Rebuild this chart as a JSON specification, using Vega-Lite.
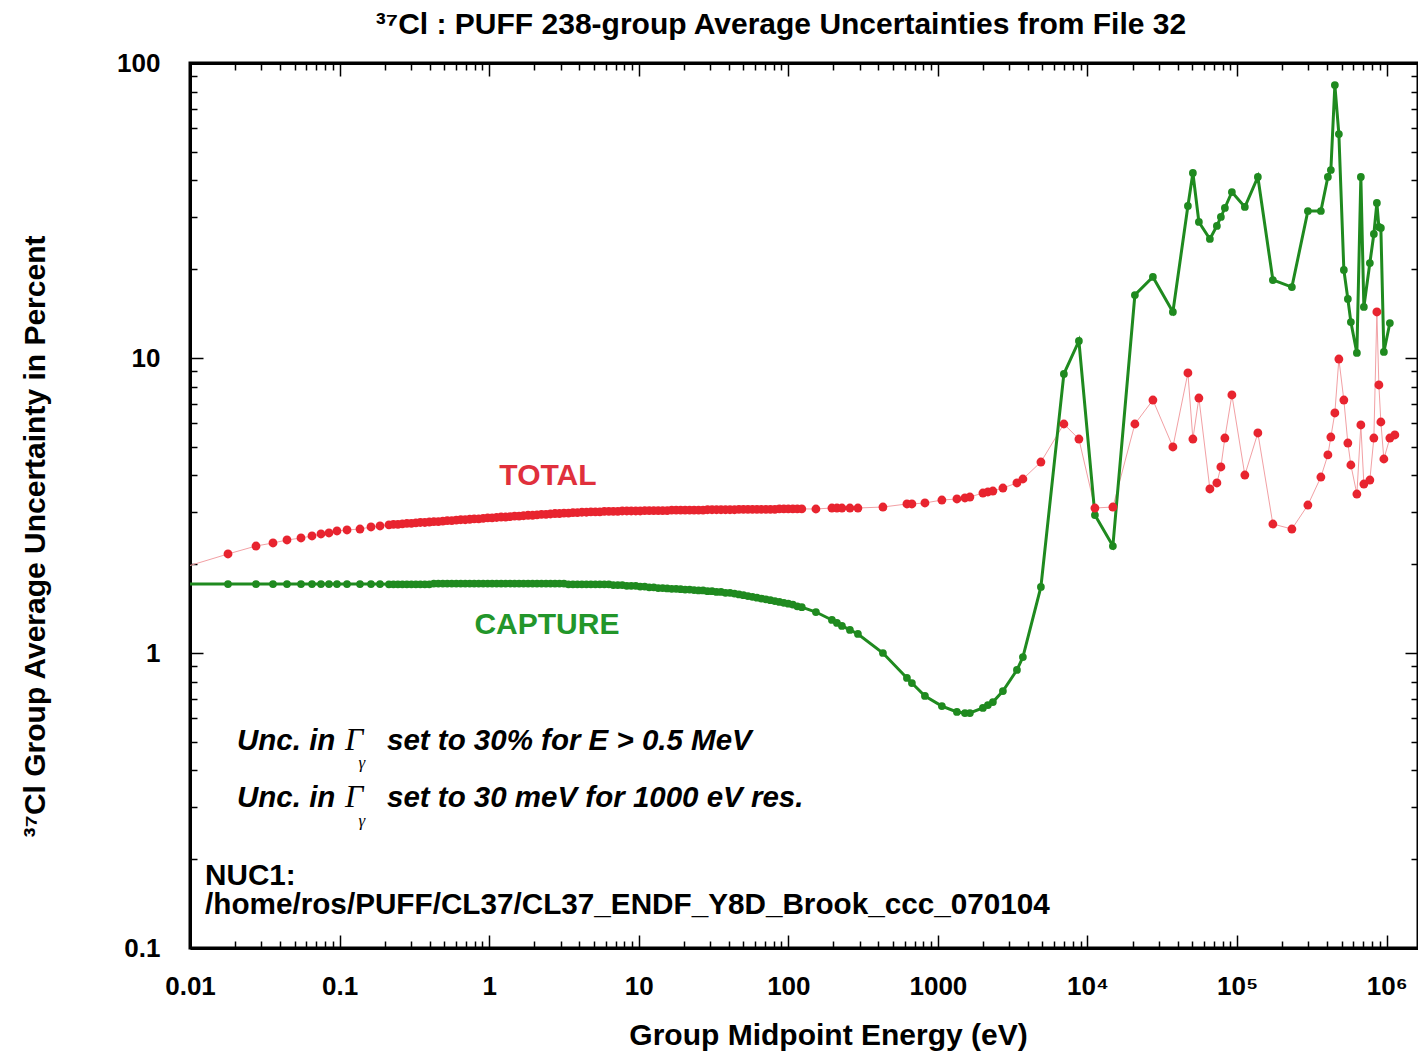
{
  "$schema": "https://vega.github.io/schema/vega-lite/v6.json",
  "width": 1228,
  "height": 885,
  "autosize": {"type": "none"},
  "padding": {"left": 190, "top": 63, "right": 0, "bottom": 105},
  "background": "white",
  "config": {"view": {"stroke": "black", "strokeWidth": 3}, "font": "Liberation Sans"},
  "title": {"text": "³⁷Cl : PUFF 238-group Average Uncertainties from File 32", "font": "Liberation Sans", "fontSize": 30, "fontWeight": "bold", "color": "black", "anchor": "middle", "frame": "group", "dx": -23, "offset": -14, "baseline": "alphabetic"},
  "datasets": {
    "g": [
      {"e": 0.005, "t": 1.78, "c": 1.713},
      {"e": 0.01795, "t": 2.166, "c": 1.713},
      {"e": 0.02762, "t": 2.305, "c": 1.713},
      {"e": 0.03588, "t": 2.36, "c": 1.713},
      {"e": 0.0445, "t": 2.416, "c": 1.713},
      {"e": 0.05521, "t": 2.454, "c": 1.713},
      {"e": 0.06539, "t": 2.493, "c": 1.713},
      {"e": 0.07509, "t": 2.532, "c": 1.713},
      {"e": 0.08492, "t": 2.552, "c": 1.713},
      {"e": 0.09607, "t": 2.592, "c": 1.713},
      {"e": 0.1121, "t": 2.612, "c": 1.713},
      {"e": 0.1369, "t": 2.632, "c": 1.713},
      {"e": 0.1622, "t": 2.674, "c": 1.713},
      {"e": 0.1863, "t": 2.695, "c": 1.713},
      {"e": 0.2138, "t": 2.72, "c": 1.71},
      {"e": 0.2291, "t": 2.73, "c": 1.71},
      {"e": 0.2455, "t": 2.73, "c": 1.71},
      {"e": 0.263, "t": 2.74, "c": 1.71},
      {"e": 0.2818, "t": 2.75, "c": 1.71},
      {"e": 0.302, "t": 2.75, "c": 1.71},
      {"e": 0.3236, "t": 2.76, "c": 1.71},
      {"e": 0.3467, "t": 2.77, "c": 1.71},
      {"e": 0.3715, "t": 2.77, "c": 1.71},
      {"e": 0.3981, "t": 2.78, "c": 1.71},
      {"e": 0.4266, "t": 2.79, "c": 1.72},
      {"e": 0.4571, "t": 2.79, "c": 1.72},
      {"e": 0.4898, "t": 2.8, "c": 1.72},
      {"e": 0.5248, "t": 2.81, "c": 1.72},
      {"e": 0.5623, "t": 2.81, "c": 1.72},
      {"e": 0.6026, "t": 2.82, "c": 1.72},
      {"e": 0.6457, "t": 2.83, "c": 1.72},
      {"e": 0.6918, "t": 2.83, "c": 1.72},
      {"e": 0.7413, "t": 2.84, "c": 1.72},
      {"e": 0.7943, "t": 2.85, "c": 1.72},
      {"e": 0.8511, "t": 2.85, "c": 1.72},
      {"e": 0.912, "t": 2.86, "c": 1.72},
      {"e": 0.9772, "t": 2.87, "c": 1.72},
      {"e": 1.047, "t": 2.87, "c": 1.72},
      {"e": 1.122, "t": 2.88, "c": 1.72},
      {"e": 1.202, "t": 2.89, "c": 1.72},
      {"e": 1.288, "t": 2.89, "c": 1.72},
      {"e": 1.38, "t": 2.9, "c": 1.72},
      {"e": 1.479, "t": 2.91, "c": 1.72},
      {"e": 1.585, "t": 2.91, "c": 1.72},
      {"e": 1.698, "t": 2.92, "c": 1.72},
      {"e": 1.82, "t": 2.93, "c": 1.72},
      {"e": 1.95, "t": 2.93, "c": 1.72},
      {"e": 2.089, "t": 2.94, "c": 1.72},
      {"e": 2.239, "t": 2.95, "c": 1.72},
      {"e": 2.399, "t": 2.95, "c": 1.72},
      {"e": 2.57, "t": 2.96, "c": 1.72},
      {"e": 2.754, "t": 2.97, "c": 1.72},
      {"e": 2.951, "t": 2.97, "c": 1.72},
      {"e": 3.162, "t": 2.98, "c": 1.72},
      {"e": 3.388, "t": 2.98, "c": 1.71},
      {"e": 3.631, "t": 2.99, "c": 1.71},
      {"e": 3.89, "t": 2.99, "c": 1.71},
      {"e": 4.169, "t": 3.0, "c": 1.71},
      {"e": 4.467, "t": 3.0, "c": 1.71},
      {"e": 4.786, "t": 3.01, "c": 1.71},
      {"e": 5.129, "t": 3.01, "c": 1.71},
      {"e": 5.495, "t": 3.01, "c": 1.71},
      {"e": 5.888, "t": 3.02, "c": 1.71},
      {"e": 6.31, "t": 3.02, "c": 1.71},
      {"e": 6.761, "t": 3.02, "c": 1.7},
      {"e": 7.244, "t": 3.02, "c": 1.7},
      {"e": 7.762, "t": 3.03, "c": 1.7},
      {"e": 8.318, "t": 3.03, "c": 1.69},
      {"e": 8.913, "t": 3.03, "c": 1.69},
      {"e": 9.55, "t": 3.03, "c": 1.69},
      {"e": 10.23, "t": 3.03, "c": 1.68},
      {"e": 10.96, "t": 3.04, "c": 1.68},
      {"e": 11.75, "t": 3.04, "c": 1.67},
      {"e": 12.59, "t": 3.04, "c": 1.67},
      {"e": 13.49, "t": 3.04, "c": 1.66},
      {"e": 14.45, "t": 3.04, "c": 1.66},
      {"e": 15.49, "t": 3.04, "c": 1.655},
      {"e": 16.6, "t": 3.05, "c": 1.65},
      {"e": 17.78, "t": 3.05, "c": 1.65},
      {"e": 19.05, "t": 3.05, "c": 1.645},
      {"e": 20.42, "t": 3.05, "c": 1.64},
      {"e": 21.88, "t": 3.05, "c": 1.64},
      {"e": 23.44, "t": 3.05, "c": 1.635},
      {"e": 25.12, "t": 3.05, "c": 1.63},
      {"e": 26.92, "t": 3.05, "c": 1.63},
      {"e": 28.84, "t": 3.06, "c": 1.62},
      {"e": 30.9, "t": 3.06, "c": 1.62},
      {"e": 33.11, "t": 3.06, "c": 1.61},
      {"e": 35.48, "t": 3.06, "c": 1.61},
      {"e": 38.02, "t": 3.06, "c": 1.6},
      {"e": 40.74, "t": 3.06, "c": 1.6},
      {"e": 43.65, "t": 3.06, "c": 1.59},
      {"e": 46.77, "t": 3.07, "c": 1.58},
      {"e": 50.12, "t": 3.07, "c": 1.57},
      {"e": 53.7, "t": 3.07, "c": 1.56},
      {"e": 57.54, "t": 3.07, "c": 1.55},
      {"e": 61.66, "t": 3.07, "c": 1.54},
      {"e": 66.07, "t": 3.07, "c": 1.53},
      {"e": 70.79, "t": 3.07, "c": 1.52},
      {"e": 75.86, "t": 3.07, "c": 1.51},
      {"e": 81.28, "t": 3.07, "c": 1.5},
      {"e": 87.1, "t": 3.08, "c": 1.49},
      {"e": 93.33, "t": 3.08, "c": 1.48},
      {"e": 100, "t": 3.08, "c": 1.47},
      {"e": 107.2, "t": 3.08, "c": 1.46},
      {"e": 114.8, "t": 3.08, "c": 1.44},
      {"e": 123, "t": 3.08, "c": 1.43},
      {"e": 152.9, "t": 3.077, "c": 1.377},
      {"e": 195.6, "t": 3.101, "c": 1.294},
      {"e": 211.3, "t": 3.101, "c": 1.264},
      {"e": 228.2, "t": 3.101, "c": 1.235},
      {"e": 258.1, "t": 3.101, "c": 1.197},
      {"e": 291.9, "t": 3.101, "c": 1.16},
      {"e": 429, "t": 3.125, "c": 1.0},
      {"e": 620.6, "t": 3.2, "c": 0.823},
      {"e": 670.1, "t": 3.2, "c": 0.791},
      {"e": 818.9, "t": 3.225, "c": 0.715},
      {"e": 1063, "t": 3.3, "c": 0.661},
      {"e": 1340, "t": 3.327, "c": 0.631},
      {"e": 1516, "t": 3.353, "c": 0.626},
      {"e": 1636, "t": 3.379, "c": 0.626},
      {"e": 1999, "t": 3.486, "c": 0.651},
      {"e": 2159, "t": 3.514, "c": 0.666},
      {"e": 2331, "t": 3.541, "c": 0.682},
      {"e": 2720, "t": 3.625, "c": 0.743},
      {"e": 3375, "t": 3.77, "c": 0.876},
      {"e": 3700, "t": 3.889, "c": 0.969},
      {"e": 4881, "t": 4.44, "c": 1.674},
      {"e": 6953, "t": 5.974, "c": 8.83},
      {"e": 8761, "t": 5.313, "c": 11.42},
      {"e": 11210, "t": 3.101, "c": 2.936},
      {"e": 14780, "t": 3.125, "c": 2.305},
      {"e": 20740, "t": 5.974, "c": 16.35},
      {"e": 27370, "t": 7.204, "c": 18.82},
      {"e": 37230, "t": 4.993, "c": 14.32},
      {"e": 46910, "t": 8.897, "c": 32.76},
      {"e": 50650, "t": 5.313, "c": 42.38},
      {"e": 55550, "t": 7.318, "c": 28.91},
      {"e": 65800, "t": 3.597, "c": 25.32},
      {"e": 73280, "t": 3.77, "c": 28.03},
      {"e": 77940, "t": 4.271, "c": 30.06},
      {"e": 82870, "t": 5.355, "c": 32.25},
      {"e": 92320, "t": 7.492, "c": 36.53},
      {"e": 112700, "t": 4.012, "c": 32.5},
      {"e": 137700, "t": 5.569, "c": 41.08},
      {"e": 173500, "t": 2.737, "c": 18.38},
      {"e": 232500, "t": 2.632, "c": 17.4},
      {"e": 297400, "t": 3.174, "c": 31.5},
      {"e": 363300, "t": 3.95, "c": 31.5},
      {"e": 404600, "t": 4.692, "c": 41.08},
      {"e": 423600, "t": 5.397, "c": 43.38},
      {"e": 450500, "t": 6.51, "c": 84.2},
      {"e": 479200, "t": 9.92, "c": 57.44},
      {"e": 517400, "t": 7.204, "c": 19.88},
      {"e": 550300, "t": 5.15, "c": 15.85},
      {"e": 576400, "t": 4.338, "c": 13.24},
      {"e": 632200, "t": 3.459, "c": 10.4},
      {"e": 672200, "t": 5.928, "c": 41.08},
      {"e": 704000, "t": 3.74, "c": 14.89},
      {"e": 772100, "t": 3.858, "c": 20.99},
      {"e": 821200, "t": 5.355, "c": 26.33},
      {"e": 860100, "t": 14.32, "c": 33.53},
      {"e": 887000, "t": 8.101, "c": 27.81},
      {"e": 914700, "t": 6.068, "c": 27.59},
      {"e": 957900, "t": 4.546, "c": 10.48},
      {"e": 1050500, "t": 5.355, "c": 13.14},
      {"e": 1134000, "t": 5.483, "c": null}
    ],
    "notes": [
      {"kind": "total", "e": 2.472, "u": 3.711, "txt": "TOTAL"},
      {"kind": "capture", "e": 2.434, "u": 1.16, "txt": "CAPTURE"},
      {"kind": "unc", "e": 0.02062, "u": 0.4691, "txt": "Unc. in"},
      {"kind": "unc", "e": 0.2074, "u": 0.4691, "txt": "set to 30% for E > 0.5 MeV"},
      {"kind": "unc", "e": 0.02062, "u": 0.3006, "txt": "Unc. in"},
      {"kind": "unc", "e": 0.2074, "u": 0.3006, "txt": "set to 30 meV for 1000 eV res."},
      {"kind": "Gamma", "e": 0.1087, "u": 0.4691, "txt": "Γ"},
      {"kind": "Gamma", "e": 0.1087, "u": 0.3006, "txt": "Γ"},
      {"kind": "gsub", "e": 0.1411, "u": 0.4076, "txt": "γ"},
      {"kind": "gsub", "e": 0.1411, "u": 0.2592, "txt": "γ"},
      {"kind": "nuc", "e": 0.0126, "u": 0.1635, "txt": "NUC1:"},
      {"kind": "nuc", "e": 0.0126, "u": 0.1304, "txt": "/home/ros/PUFF/CL37/CL37_ENDF_Y8D_Brook_ccc_070104"}
    ]
  },
  "layer": [
    {
      "data": {"name": "g"},
      "transform": [{"filter": "isValid(datum.t)"}],
      "mark": {"type": "line", "color": "#f2a0a4", "strokeWidth": 1, "clip": true},
      "encoding": {
        "x": {"field": "e", "type": "quantitative", "scale": {"type": "log", "domain": [0.01, 1620000], "nice": false},
          "axis": {"orient": "bottom", "grid": false,
            "values": [0.01,0.02,0.03,0.04,0.05,0.06,0.07,0.08,0.09,0.1,0.2,0.3,0.4,0.5,0.6,0.7,0.8,0.9,1,2,3,4,5,6,7,8,9,10,20,30,40,50,60,70,80,90,100,200,300,400,500,600,700,800,900,1000,2000,3000,4000,5000,6000,7000,8000,9000,10000,20000,30000,40000,50000,60000,70000,80000,90000,100000,200000,300000,400000,500000,600000,700000,800000,900000,1000000],
            "labelExpr": "datum.value == 0.01 ? '0.01' : datum.value == 0.1 ? '0.1' : datum.value == 1 ? '1' : datum.value == 10 ? '10' : datum.value == 100 ? '100' : datum.value == 1000 ? '1000' : datum.value == 10000 ? '10⁴' : datum.value == 100000 ? '10⁵' : datum.value == 1000000 ? '10⁶' : ''",
            "labelFont": "Liberation Sans", "labelFontSize": 26, "labelFontWeight": "bold", "labelColor": "black",
            "labelPadding": 38, "labelOverlap": false, "labelFlush": false, "labelBound": false,
            "tickSize": {"condition": {"test": "indexof([0.01,0.1,1,10,100,1000,10000,100000,1000000], datum.value) >= 0", "value": -13}, "value": -7},
            "tickColor": "black", "tickWidth": 1.5, "domainColor": "black", "domainWidth": 3,
            "title": "Group Midpoint Energy (eV)", "titleFont": "Liberation Sans", "titleFontSize": 30, "titleFontWeight": "bold", "titleColor": "black",
            "titleX": 638, "titleY": 87, "titleBaseline": "middle", "titleAlign": "center"}},
        "y": {"field": "t", "type": "quantitative", "scale": {"type": "log", "domain": [0.1, 100], "nice": false},
          "axis": {"orient": "left", "grid": false,
            "values": [0.1,0.2,0.3,0.4,0.5,0.6,0.7,0.8,0.9,1,2,3,4,5,6,7,8,9,10,20,30,40,50,60,70,80,90,100],
            "labelExpr": "datum.value == 0.1 ? '0.1' : datum.value == 1 ? '1' : datum.value == 10 ? '10' : datum.value == 100 ? '100' : ''",
            "labelFont": "Liberation Sans", "labelFontSize": 26, "labelFontWeight": "bold", "labelColor": "black",
            "labelPadding": 43, "labelOverlap": false, "labelFlush": false, "labelBound": false,
            "tickSize": {"condition": {"test": "indexof([0.1,1,10,100], datum.value) >= 0", "value": -13}, "value": -7},
            "tickColor": "black", "tickWidth": 1.5, "domainColor": "black", "domainWidth": 3,
            "title": "³⁷Cl   Group Average Uncertainty in Percent", "titleFont": "Liberation Sans", "titleFontSize": 30, "titleFontWeight": "bold", "titleColor": "black",
            "titleX": -155, "titleY": 473, "titleAngle": -90, "titleBaseline": "middle", "titleAlign": "center"}}
      }
    },
    {
      "data": {"name": "g"},
      "transform": [{"filter": "isValid(datum.c)"}],
      "mark": {"type": "line", "color": "#1f8a1f", "strokeWidth": 3, "clip": true},
      "encoding": {
        "x": {"field": "e", "type": "quantitative", "scale": {"type": "log", "domain": [0.01, 1620000], "nice": false},
          "axis": {"orient": "top", "grid": false, "labels": false, "title": null,
            "values": [0.01,0.02,0.03,0.04,0.05,0.06,0.07,0.08,0.09,0.1,0.2,0.3,0.4,0.5,0.6,0.7,0.8,0.9,1,2,3,4,5,6,7,8,9,10,20,30,40,50,60,70,80,90,100,200,300,400,500,600,700,800,900,1000,2000,3000,4000,5000,6000,7000,8000,9000,10000,20000,30000,40000,50000,60000,70000,80000,90000,100000,200000,300000,400000,500000,600000,700000,800000,900000,1000000],
            "tickSize": {"condition": {"test": "indexof([0.01,0.1,1,10,100,1000,10000,100000,1000000], datum.value) >= 0", "value": -13}, "value": -7},
            "tickColor": "black", "tickWidth": 1.5, "domainColor": "black", "domainWidth": 3}},
        "y": {"field": "c", "type": "quantitative", "scale": {"type": "log", "domain": [0.1, 100], "nice": false},
          "axis": {"orient": "right", "grid": false, "labels": false, "title": null,
            "values": [0.1,0.2,0.3,0.4,0.5,0.6,0.7,0.8,0.9,1,2,3,4,5,6,7,8,9,10,20,30,40,50,60,70,80,90,100],
            "tickSize": {"condition": {"test": "indexof([0.1,1,10,100], datum.value) >= 0", "value": -13}, "value": -7},
            "tickColor": "black", "tickWidth": 1.5, "domainColor": "black", "domainWidth": 3}}
      }
    },
    {
      "data": {"name": "g"},
      "transform": [{"filter": "isValid(datum.c)"}],
      "mark": {"type": "point", "filled": true, "color": "#1f8a1f", "size": 60, "opacity": 1, "clip": true},
      "encoding": {
        "x": {"field": "e", "type": "quantitative", "axis": null},
        "y": {"field": "c", "type": "quantitative", "axis": null}
      }
    },
    {
      "data": {"name": "g"},
      "transform": [{"filter": "isValid(datum.t)"}],
      "mark": {"type": "point", "filled": true, "color": "#e8242f", "size": 78, "opacity": 1, "clip": true},
      "encoding": {
        "x": {"field": "e", "type": "quantitative", "axis": null},
        "y": {"field": "t", "type": "quantitative", "axis": null}
      }
    },
    {
      "data": {"name": "notes"},
      "transform": [{"filter": "datum.kind == 'total'"}],
      "mark": {"type": "text", "font": "Liberation Sans", "fontSize": 30, "fontWeight": "bold", "color": "#e0303c", "align": "center", "baseline": "alphabetic"},
      "encoding": {
        "x": {"field": "e", "type": "quantitative", "axis": null},
        "y": {"field": "u", "type": "quantitative", "axis": null},
        "text": {"field": "txt"}
      }
    },
    {
      "data": {"name": "notes"},
      "transform": [{"filter": "datum.kind == 'capture'"}],
      "mark": {"type": "text", "font": "Liberation Sans", "fontSize": 30, "fontWeight": "bold", "color": "#22962a", "align": "center", "baseline": "alphabetic"},
      "encoding": {
        "x": {"field": "e", "type": "quantitative", "axis": null},
        "y": {"field": "u", "type": "quantitative", "axis": null},
        "text": {"field": "txt"}
      }
    },
    {
      "data": {"name": "notes"},
      "transform": [{"filter": "datum.kind == 'unc'"}],
      "mark": {"type": "text", "font": "Liberation Sans", "fontSize": 29.5, "fontWeight": "bold", "fontStyle": "italic", "color": "black", "align": "left", "baseline": "alphabetic"},
      "encoding": {
        "x": {"field": "e", "type": "quantitative", "axis": null},
        "y": {"field": "u", "type": "quantitative", "axis": null},
        "text": {"field": "txt"}
      }
    },
    {
      "data": {"name": "notes"},
      "transform": [{"filter": "datum.kind == 'Gamma'"}],
      "mark": {"type": "text", "font": "Liberation Serif", "fontSize": 32, "fontStyle": "italic", "color": "black", "align": "left", "baseline": "alphabetic"},
      "encoding": {
        "x": {"field": "e", "type": "quantitative", "axis": null},
        "y": {"field": "u", "type": "quantitative", "axis": null},
        "text": {"field": "txt"}
      }
    },
    {
      "data": {"name": "notes"},
      "transform": [{"filter": "datum.kind == 'gsub'"}],
      "mark": {"type": "text", "font": "Liberation Serif", "fontSize": 17, "fontStyle": "italic", "color": "black", "align": "center", "baseline": "alphabetic"},
      "encoding": {
        "x": {"field": "e", "type": "quantitative", "axis": null},
        "y": {"field": "u", "type": "quantitative", "axis": null},
        "text": {"field": "txt"}
      }
    },
    {
      "data": {"name": "notes"},
      "transform": [{"filter": "datum.kind == 'nuc'"}],
      "mark": {"type": "text", "font": "Liberation Sans", "fontSize": 29.7, "fontWeight": "bold", "color": "black", "align": "left", "baseline": "alphabetic"},
      "encoding": {
        "x": {"field": "e", "type": "quantitative", "axis": null},
        "y": {"field": "u", "type": "quantitative", "axis": null},
        "text": {"field": "txt"}
      }
    }
  ],
  "resolve": {"axis": {"x": "independent", "y": "independent"}}
}
